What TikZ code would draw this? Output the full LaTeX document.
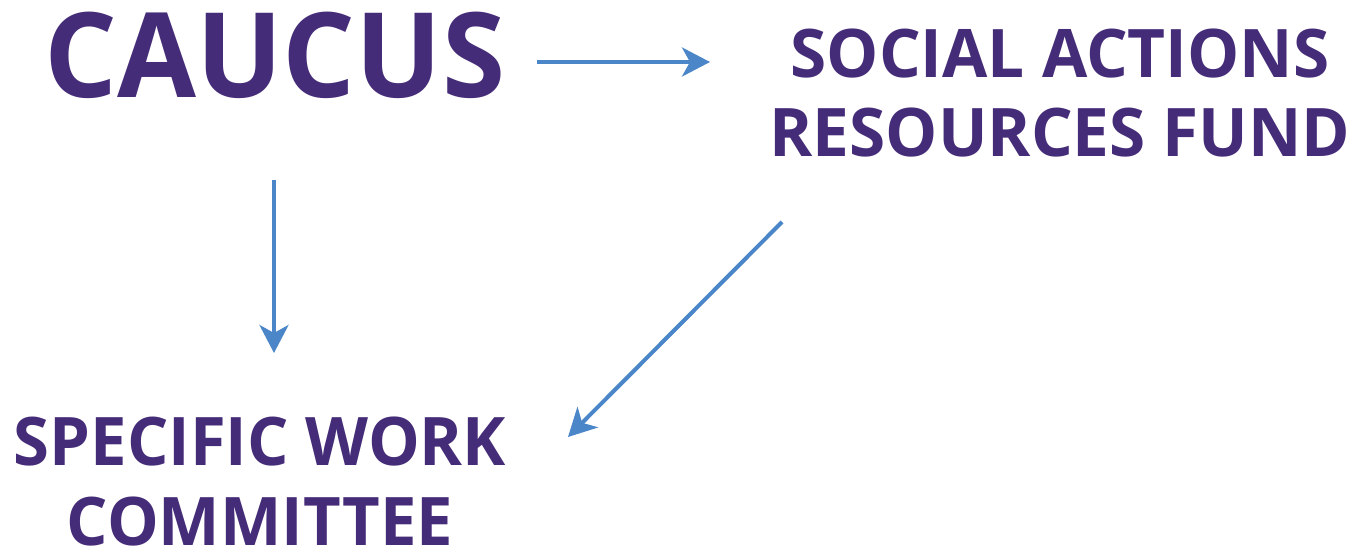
\documentclass[tikz,border=0pt]{standalone}
\usepackage{fontspec}
\newfontfamily\osb{Open Sans}
\usetikzlibrary{arrows.meta}
\definecolor{txt}{HTML}{452C78}
\definecolor{arr}{HTML}{4A86C8}
\tikzset{
  lbl/.style={text=txt, inner sep=0pt, align=center, anchor=base, transform shape},
  conn/.style={draw=arr, line width=4pt, -{Stealth[length=28pt, width=29pt, inset=8pt]}}
}
\begin{document}
\begin{tikzpicture}[x=1pt,y=1pt]
\useasboundingbox (0,0) rectangle (1362,-548);
\node[lbl, xscale=0.97, font={\osb\bfseries\fontsize{118}{118}\selectfont}] (caucus) at (275,-98) {CAUCUS};
\node[lbl, xscale=0.98, font={\osb\bfseries\fontsize{67}{79.5}\selectfont}] (sarf) at (1060,-157) {SOCIAL ACTIONS\\RESOURCES FUND};
\node[lbl, xscale=0.972, font={\osb\bfseries\fontsize{67}{79.5}\selectfont}] (swc) at (260,-545) {SPECIFIC WORK\\COMMITTEE};
\coordinate (h1) at (537,-62);
\coordinate (h2) at (710,-62);
\coordinate (v1) at (274,-180);
\coordinate (v2) at (274,-353);
\coordinate (d1) at (782,-222);
\coordinate (d2) at (568,-437);
\draw[conn] (h1) -- (h2);
\draw[conn] (v1) -- (v2);
\draw[conn] (d1) -- (d2);
\end{tikzpicture}
\end{document}
